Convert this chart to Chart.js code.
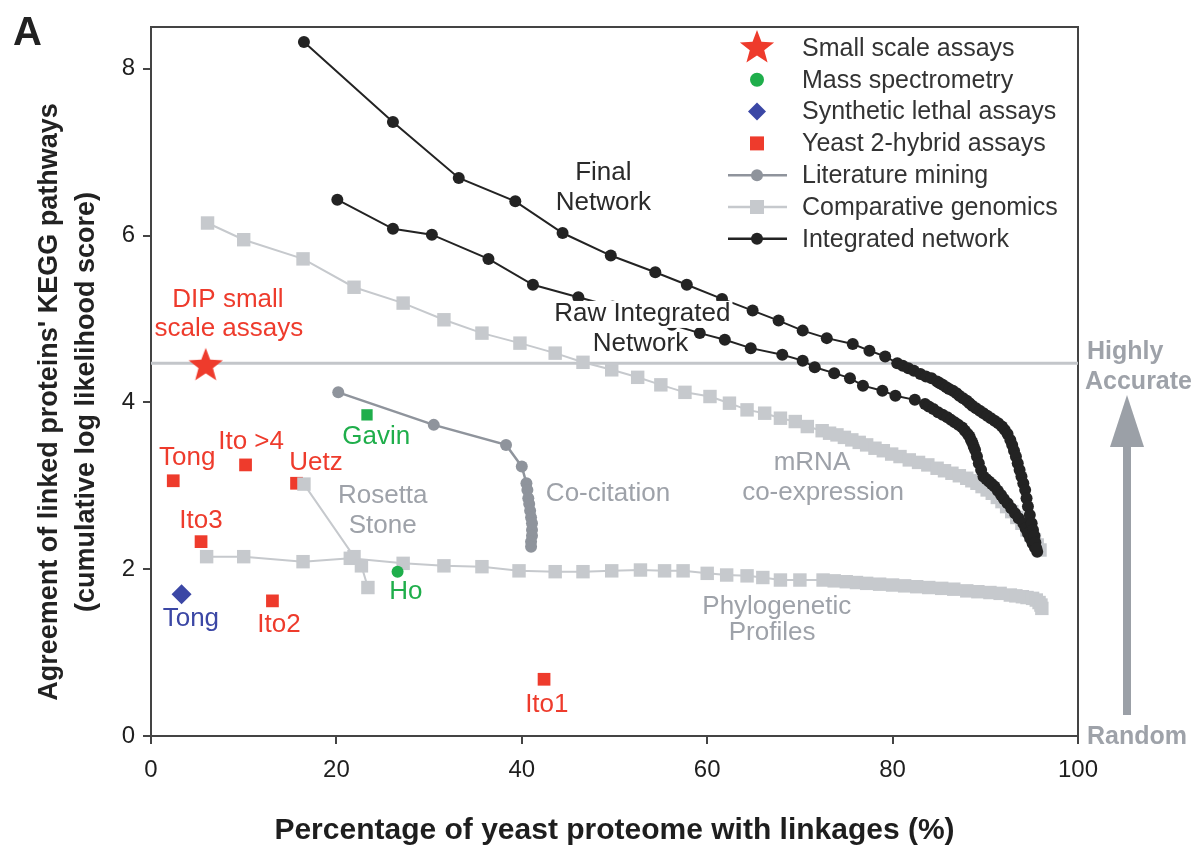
<!DOCTYPE html>
<html>
<head>
<meta charset="utf-8">
<script src="https://cdn.jsdelivr.net/npm/chart.js@4.4.1/dist/chart.umd.min.js"></script>
<style>
  body { margin: 0; background: #fff; }
  canvas { display: block; }
</style>
</head>
<body>
<canvas id="myChart" width="1198" height="849"></canvas>
<script>
// ---- data ----
// Integrated network, "Final Network" curve
var finalX = [16.5, 26.1, 33.2, 39.3, 44.4, 49.6, 54.4, 57.8, 61.6, 64.9, 67.7, 70.3, 72.9, 75.7, 77.5, 79.2, 80.5, 81.1, 81.7, 82.3, 83.0, 83.6, 84.2, 84.8, 85.1, 85.4, 85.8, 86.1, 86.5, 86.9, 87.2, 87.6, 88.0, 88.3, 88.6, 89.0, 89.4, 89.8, 90.2, 90.6, 91.0, 91.4, 91.8, 92.1, 92.4, 92.7, 92.9, 93.1, 93.3, 93.5, 93.7, 93.9, 94.1, 94.3, 94.45, 94.6, 94.8, 95.0, 95.15, 95.3, 95.4, 95.5];
var finalY = [8.32, 7.36, 6.69, 6.41, 6.03, 5.76, 5.56, 5.41, 5.24, 5.10, 4.98, 4.86, 4.77, 4.70, 4.62, 4.55, 4.47, 4.44, 4.41, 4.38, 4.34, 4.31, 4.29, 4.25, 4.23, 4.21, 4.18, 4.16, 4.14, 4.11, 4.08, 4.05, 4.02, 3.99, 3.96, 3.93, 3.90, 3.87, 3.84, 3.81, 3.78, 3.75, 3.71, 3.67, 3.62, 3.55, 3.49, 3.42, 3.35, 3.27, 3.19, 3.11, 3.03, 2.95, 2.85, 2.75, 2.65, 2.55, 2.47, 2.40, 2.32, 2.25];
// Integrated network, "Raw Integrated Network" curve
var rawX = [20.1, 26.1, 30.3, 36.4, 41.2, 46.1, 49.8, 53.0, 56.2, 59.2, 61.9, 64.7, 68.1, 70.3, 71.6, 73.7, 75.4, 76.8, 78.9, 80.3, 82.4, 83.5, 83.9, 84.4, 84.9, 85.4, 85.9, 86.3, 86.7, 87.1, 87.5, 87.8, 88.1, 88.3, 88.45, 88.6, 88.75, 88.9, 89.1, 89.3, 89.55, 89.8, 90.1, 90.4, 90.7, 91.0, 91.35, 91.7, 92.0, 92.4, 92.8, 93.2, 93.6, 94.1, 94.35, 94.6, 94.85, 95.1, 95.35, 95.6];
var rawY = [6.43, 6.08, 6.01, 5.72, 5.41, 5.26, 5.15, 5.04, 4.93, 4.83, 4.75, 4.65, 4.57, 4.50, 4.42, 4.35, 4.29, 4.20, 4.14, 4.08, 4.03, 3.98, 3.95, 3.92, 3.88, 3.85, 3.82, 3.79, 3.76, 3.73, 3.70, 3.66, 3.62, 3.59, 3.55, 3.52, 3.47, 3.43, 3.35, 3.27, 3.19, 3.11, 3.08, 3.05, 3.02, 2.99, 2.94, 2.89, 2.84, 2.79, 2.73, 2.67, 2.61, 2.55, 2.49, 2.43, 2.37, 2.31, 2.26, 2.21];
// Literature mining (co-citation)
var litX = [20.2, 30.5, 38.3, 40.0, 40.5, 40.6, 40.7, 40.8, 40.9, 41.0, 41.1, 41.1, 41.1, 41.0, 41.0];
var litY = [4.12, 3.73, 3.49, 3.23, 3.03, 2.95, 2.85, 2.78, 2.70, 2.62, 2.55, 2.47, 2.40, 2.33, 2.27];
// Comparative genomics: mRNA co-expression
var mrnaX = [6.1, 10.0, 16.4, 21.9, 27.2, 31.6, 35.7, 39.8, 43.6, 46.6, 49.7, 52.5, 55.0, 57.6, 60.3, 62.4, 64.3, 66.2, 67.9, 69.5, 70.8, 72.4, 73.2, 74.0, 74.8, 75.6, 76.4, 77.2, 78.1, 79.0, 79.9, 80.8, 81.8, 82.8, 83.8, 84.8, 85.6, 86.4, 87.2, 88.0, 88.55, 89.1, 89.65, 90.2, 90.75, 91.3, 91.8, 92.3, 92.85, 93.4, 93.95, 94.5, 94.9, 95.3, 95.6, 95.9];
var mrnaY = [6.15, 5.95, 5.72, 5.38, 5.19, 4.99, 4.83, 4.71, 4.59, 4.48, 4.39, 4.30, 4.21, 4.12, 4.07, 3.99, 3.91, 3.87, 3.81, 3.77, 3.71, 3.66, 3.63, 3.61, 3.58, 3.55, 3.52, 3.49, 3.45, 3.42, 3.38, 3.35, 3.31, 3.28, 3.25, 3.21, 3.18, 3.15, 3.12, 3.09, 3.06, 3.03, 2.99, 2.95, 2.91, 2.86, 2.81, 2.75, 2.69, 2.62, 2.55, 2.47, 2.41, 2.35, 2.29, 2.23];
// Comparative genomics: Rosetta Stone
var rosX = [16.5, 21.9, 22.7, 23.4];
var rosY = [3.02, 2.15, 2.04, 1.78];
// Comparative genomics: phylogenetic profiles
var phyX = [6.0, 10.0, 16.4, 21.5, 27.2, 31.6, 35.7, 39.7, 43.6, 46.6, 49.7, 52.8, 55.4, 57.4, 60.0, 62.1, 64.3, 66.0, 67.9, 70.0, 72.5, 73.7, 75.0, 76.1, 77.2, 78.6, 80.0, 81.3, 82.6, 83.9, 85.3, 86.6, 88.0, 89.2, 90.5, 91.6, 92.7, 93.3, 94.0, 94.5, 95.1, 95.5, 95.8, 96.0, 96.1];
var phyY = [2.15, 2.15, 2.09, 2.13, 2.07, 2.04, 2.03, 1.98, 1.97, 1.97, 1.98, 1.99, 1.98, 1.98, 1.95, 1.93, 1.92, 1.90, 1.87, 1.87, 1.87, 1.86, 1.85, 1.84, 1.83, 1.82, 1.81, 1.80, 1.79, 1.78, 1.77, 1.76, 1.74, 1.73, 1.72, 1.71, 1.69, 1.68, 1.67, 1.66, 1.65, 1.63, 1.60, 1.57, 1.53];
// single assays
var y2hX = [2.4, 10.2, 15.7, 5.4, 13.1, 42.4];   // Tong, Ito >4, Uetz, Ito3, Ito2, Ito1
var y2hY = [3.06, 3.25, 3.03, 2.33, 1.62, 0.68];
var msX = [23.3, 26.6];                           // Gavin, Ho
var msY = [3.85, 1.97];
var slX = [3.3];                                  // Tong
var slY = [1.70];
var dipX = [5.9];
var dipY = [4.45];
var accurateLevel = 4.47;

var xTicks = [0, 20, 40, 60, 80, 100];
var yTicks = [0, 2, 4, 6, 8];

var red = '#ee3b2c', green = '#1fae4b', blue = '#3b47a5';
var litGray = '#8f949c', compGray = '#c6c9cd', black = '#232323', txtGray = '#9ea2a9';
var FONT = "'Liberation Sans', Arial, Helvetica, sans-serif";

// text annotations (data coords of text centre)
var notes = [
  { t: 'DIP small', x: 8.3, y: 5.23, c: red },
  { t: 'scale assays', x: 8.4, y: 4.88, c: red },
  { t: 'Tong', x: 3.9, y: 3.33, c: red },
  { t: 'Ito >4', x: 10.8, y: 3.53, c: red },
  { t: 'Uetz', x: 17.8, y: 3.27, c: red },
  { t: 'Ito3', x: 5.4, y: 2.58, c: red },
  { t: 'Ito2', x: 13.8, y: 1.33, c: red },
  { t: 'Ito1', x: 42.7, y: 0.37, c: red },
  { t: 'Tong', x: 4.3, y: 1.41, c: blue },
  { t: 'Gavin', x: 24.3, y: 3.59, c: green },
  { t: 'Ho', x: 27.5, y: 1.73, c: green },
  { t: 'Rosetta', x: 25.0, y: 2.88, c: txtGray },
  { t: 'Stone', x: 25.0, y: 2.52, c: txtGray },
  { t: 'Co-citation', x: 49.3, y: 2.90, c: txtGray },
  { t: 'mRNA', x: 71.3, y: 3.27, c: txtGray },
  { t: 'co-expression', x: 72.5, y: 2.91, c: txtGray },
  { t: 'Phylogenetic', x: 67.5, y: 1.55, c: txtGray },
  { t: 'Profiles', x: 67.0, y: 1.24, c: txtGray },
  { t: 'Final', x: 48.8, y: 6.75, c: '#2a2a2a' },
  { t: 'Network', x: 48.8, y: 6.39, c: '#2a2a2a' },
  { t: 'Raw Integrated', x: 53.0, y: 5.06, c: '#2a2a2a', bg: true },
  { t: 'Network', x: 52.8, y: 4.70, c: '#2a2a2a', bg: true }
];

function pts(xs, ys) {
  return xs.map(function (x, i) { return { x: x, y: ys[i] }; });
}

// filled five-point star used as point style
var star = document.createElement('canvas');
star.width = 36; star.height = 36;
(function () {
  var c = star.getContext('2d');
  c.beginPath();
  for (var i = 0; i < 10; i++) {
    var r = i % 2 === 0 ? 18 : 7.6;
    var a = -Math.PI / 2 + i * Math.PI / 5;
    c.lineTo(18 + r * Math.cos(a), 19 + r * Math.sin(a));
  }
  c.closePath();
  c.fillStyle = red;
  c.fill();
})();

var legendRows = [
  { label: 'Small scale assays', style: 'star', color: red },
  { label: 'Mass spectrometry', style: 'circle', color: green, r: 7 },
  { label: 'Synthetic lethal assays', style: 'diamond', color: blue, r: 9 },
  { label: 'Yeast 2-hybrid assays', style: 'rect', color: red, r: 7 },
  { label: 'Literature mining', style: 'circle', color: litGray, r: 6, line: true },
  { label: 'Comparative genomics', style: 'rect', color: compGray, r: 7, line: true },
  { label: 'Integrated network', style: 'circle', color: black, r: 6, line: true }
];

function symbol(ctx, s, x, y) {
  ctx.fillStyle = s.color;
  if (s.style === 'star') { ctx.drawImage(star, x - 18, y - 19); return; }
  ctx.beginPath();
  if (s.style === 'circle') ctx.arc(x, y, s.r, 0, Math.PI * 2);
  else if (s.style === 'rect') ctx.rect(x - s.r, y - s.r, 2 * s.r, 2 * s.r);
  else { ctx.moveTo(x, y - s.r); ctx.lineTo(x + s.r, y); ctx.lineTo(x, y + s.r); ctx.lineTo(x - s.r, y); ctx.closePath(); }
  ctx.fill();
}

var extras = {
  id: 'extras',
  beforeDatasetsDraw: function (chart) {
    var ctx = chart.ctx, a = chart.chartArea;
    ctx.save();
    ctx.strokeStyle = '#444';
    ctx.lineWidth = 2;
    ctx.beginPath();
    ctx.moveTo(a.left, a.top); ctx.lineTo(a.right, a.top); ctx.lineTo(a.right, a.bottom);
    ctx.stroke();
    ctx.restore();
  },
  afterDatasetsDraw: function (chart) {
    var ctx = chart.ctx, xs = chart.scales.x, ys = chart.scales.y;
    ctx.save();
    ctx.font = '26px ' + FONT;
    ctx.textAlign = 'center';
    ctx.textBaseline = 'middle';
    notes.forEach(function (n) {
      var px = xs.getPixelForValue(n.x), py = ys.getPixelForValue(n.y);
      if (n.bg) {
        var w = ctx.measureText(n.t).width;
        ctx.fillStyle = '#fff';
        ctx.fillRect(px - w / 2 - 2, py - 13, w + 4, 27);
      }
      ctx.fillStyle = n.c;
      ctx.fillText(n.t, px, py);
    });

    // legend inside the plot
    ctx.font = '25px ' + FONT;
    ctx.textAlign = 'left';
    legendRows.forEach(function (s, i) {
      var y = 48 + i * 31.8;
      if (s.line) {
        ctx.strokeStyle = s.color;
        ctx.lineWidth = 2.5;
        ctx.beginPath(); ctx.moveTo(728, y); ctx.lineTo(787, y); ctx.stroke();
      }
      symbol(ctx, s, 757, y);
      ctx.fillStyle = '#333';
      ctx.fillText(s.label, 802, y + 1);
    });

    // y axis title
    ctx.fillStyle = '#222';
    ctx.font = 'bold 27px ' + FONT;
    ctx.textAlign = 'center';
    ctx.translate(50, 402);
    ctx.rotate(-Math.PI / 2);
    ctx.fillText("Agreement of linked proteins' KEGG pathways", 0, 0);
    ctx.fillText('(cumulative log likelihood score)', 0, 37);
    ctx.restore();

    // panel letter and right-hand scale arrow
    ctx.save();
    ctx.fillStyle = '#222';
    ctx.font = 'bold 40px ' + FONT;
    ctx.textBaseline = 'alphabetic';
    ctx.fillText('A', 13, 45);
    ctx.fillStyle = txtGray;
    ctx.font = 'bold 25px ' + FONT;
    ctx.textBaseline = 'middle';
    ctx.fillText('Highly', 1087, 352);
    ctx.fillText('Accurate', 1085, 382);
    ctx.fillText('Random', 1087, 737);
    ctx.fillStyle = '#9ba0a7';
    ctx.fillRect(1123, 440, 8, 275);
    ctx.beginPath();
    ctx.moveTo(1127, 395); ctx.lineTo(1144, 447); ctx.lineTo(1110, 447); ctx.closePath();
    ctx.fill();
    ctx.restore();
  }
};

function initGraph() {
  var lineSet = function (xs, ys, color, style, r, width) {
    return {
      data: pts(xs, ys), showLine: true, borderColor: color, backgroundColor: color,
      borderWidth: width, pointStyle: style, pointRadius: r, pointBorderWidth: 0,
      pointHoverRadius: r
    };
  };
  var config = {
    type: 'scatter',
    data: {
      datasets: [
        lineSet(finalX, finalY, black, 'circle', 6, 2),
        lineSet(rawX, rawY, black, 'circle', 6, 2),
        lineSet(litX, litY, litGray, 'circle', 6, 2.5),
        { data: pts(msX, msY), backgroundColor: green, pointStyle: ['rect', 'circle'], pointRadius: [8, 6], pointBorderWidth: 0 },
        lineSet(mrnaX, mrnaY, compGray, 'rect', 9.5, 2),
        lineSet(rosX, rosY, compGray, 'rect', 9.5, 2),
        lineSet(phyX, phyY, compGray, 'rect', 9.5, 2),
        { data: pts(y2hX, y2hY), backgroundColor: red, pointStyle: 'rect', pointRadius: 9, pointBorderWidth: 0 },
        { data: pts(slX, slY), backgroundColor: blue, pointStyle: 'rectRot', pointRadius: 10, pointBorderWidth: 0 },
        { data: pts(dipX, dipY), pointStyle: star, pointRadius: 18 },
        { data: [{ x: 0, y: accurateLevel }, { x: 100, y: accurateLevel }], showLine: true, borderColor: '#c3c6ca', borderWidth: 3, pointRadius: 0 }
      ]
    },
    options: {
      responsive: false,
      animation: false,
      devicePixelRatio: 1,
      layout: { padding: { left: 0, right: 120, top: 27, bottom: 0 } },
      plugins: { legend: { display: false }, tooltip: { enabled: false } },
      scales: {
        x: {
          type: 'linear', min: 0, max: 100,
          afterBuildTicks: function (s) { s.ticks = xTicks.map(function (v) { return { value: v }; }); },
          afterFit: function (s) { s.height = 113; },
          ticks: { font: { size: 24, family: FONT }, color: '#1e1e1e', padding: 12 },
          grid: { drawOnChartArea: false, tickLength: 8, color: '#444', lineWidth: 2 },
          border: { color: '#444', width: 2 },
          title: { display: true, text: 'Percentage of yeast proteome with linkages (%)', color: '#1e1e1e',
                   font: { size: 30, weight: 'bold', family: FONT }, padding: 0 }
        },
        y: {
          type: 'linear', min: 0, max: 8.5,
          afterBuildTicks: function (s) { s.ticks = yTicks.map(function (v) { return { value: v }; }); },
          afterFit: function (s) { s.width = 151; },
          ticks: { font: { size: 24, family: FONT }, color: '#1e1e1e', padding: 8 },
          grid: { drawOnChartArea: false, tickLength: 8, color: '#444', lineWidth: 2 },
          border: { color: '#444', width: 2 }
        }
      }
    },
    plugins: [extras]
  };
  new Chart(document.getElementById('myChart'), config);
}
initGraph();
</script>
</body>
</html>
